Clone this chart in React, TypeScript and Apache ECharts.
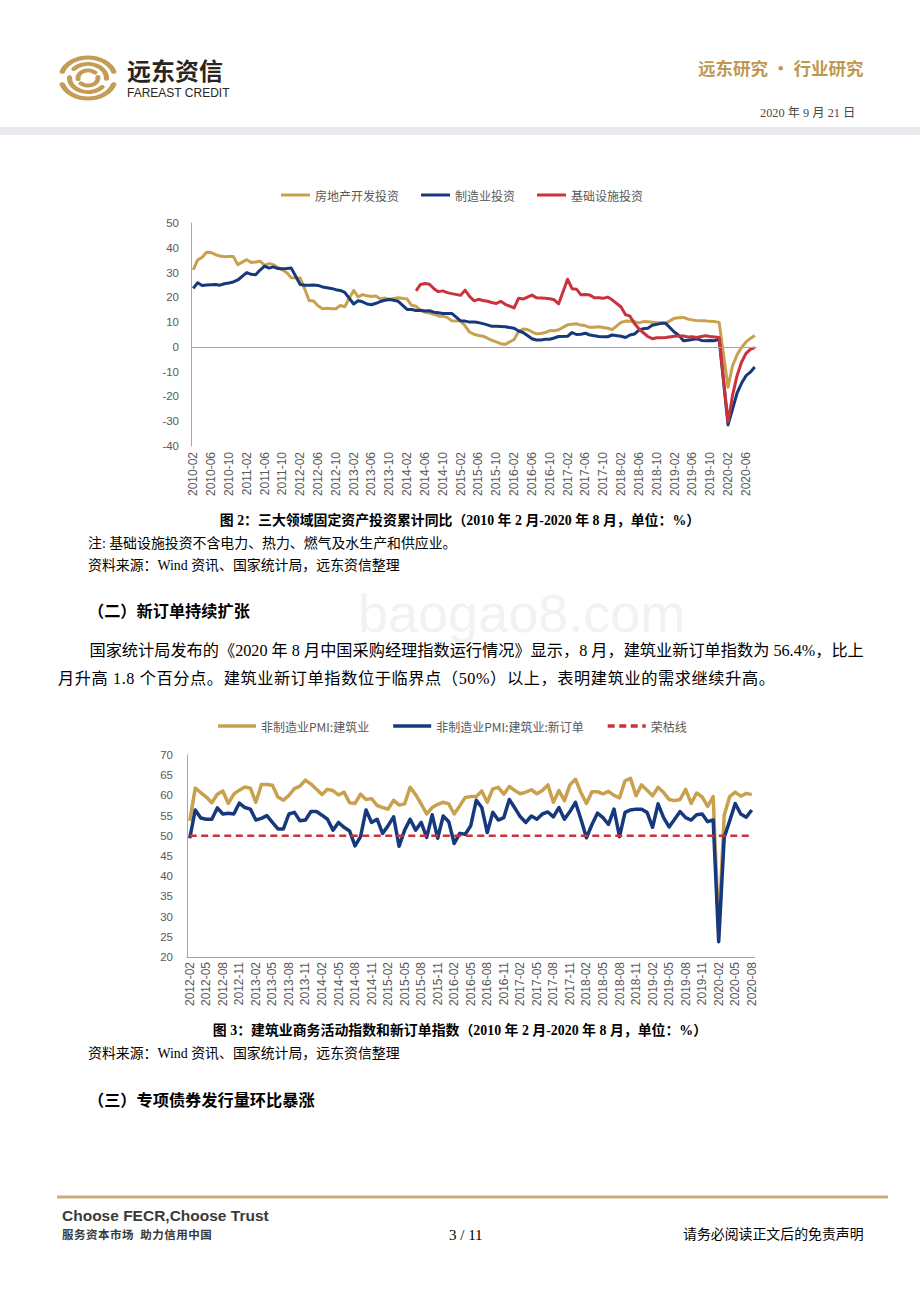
import React, { useEffect, useRef } from "react";
import * as echarts from "echarts";

function monthRange(start: string, end: string): string[] {
  const [sy, sm] = start.split("-").map(Number);
  const [ey, em] = end.split("-").map(Number);
  const out: string[] = [];
  let y = sy;
  let m = sm;
  while (y < ey || (y === ey && m <= em)) {
    out.push(`${y}-${String(m).padStart(2, "0")}`);
    m++;
    if (m > 12) {
      m = 1;
      y++;
    }
  }
  return out;
}

// ---------- Figure 2: fixed-asset investment, cumulative YoY (%) ----------
const fixedAssetMonths = monthRange("2010-02", "2020-08");
const fixedAssetSeriesNames = ["房地产开发投资", "制造业投资", "基础设施投资"];

const realEstateInvest: (number | null)[] = [
  31.1, 35.1, 36.2, 38.2, 38.1, 37.2, 36.7, 36.4, 36.5, 36.5, 33.2,
  null, 35.2, 34.1, 34.3, 34.6, 32.9, 33.6, 33.2, 32.0, 31.1, 29.9, 27.9,
  null, 27.8, 23.5, 18.7, 18.5, 16.6, 15.4, 15.6, 15.4, 15.4, 16.7, 16.2,
  null, 22.8, 20.2, 21.1, 20.6, 20.3, 20.5, 19.3, 19.7, 19.2, 19.5, 19.8,
  null, 19.3, 16.8, 16.4, 14.7, 14.1, 13.7, 13.2, 12.5, 12.4, 11.9, 10.5,
  null, 10.4, 8.5, 6.0, 5.1, 4.6, 4.3, 3.5, 2.6, 2.0, 1.3, 1.0,
  null, 3.0, 6.2, 7.2, 7.0, 6.1, 5.3, 5.4, 5.8, 6.6, 6.5, 6.9,
  null, 8.9, 9.1, 9.3, 8.8, 8.5, 7.9, 7.9, 8.1, 7.8, 7.5, 7.0,
  null, 9.9, 10.4, 10.3, 10.2, 9.7, 10.2, 10.1, 9.9, 9.7, 9.7, 9.5,
  null, 11.6, 11.8, 11.9, 11.2, 10.9, 10.6, 10.5, 10.5, 10.3, 10.2, 9.9,
  null, -16.3, -7.7, -3.3, -0.3, 1.9, 3.4, 4.6,
];

const manufacturingInvest: (number | null)[] = [
  23.6, 25.9, 24.8, 25.0, 25.1, 25.2, 24.9, 25.5, 25.8, 26.2, 27.0,
  null, 30.0, 29.3, 29.1, 31.0, 32.6, 31.8, 32.3, 31.6, 31.5, 31.6, 31.8,
  null, 25.2, 24.9, 24.9, 25.0, 24.8, 24.2, 23.9, 23.6, 23.1, 22.8, 22.0,
  null, 17.3, 18.6, 18.2, 17.3, 17.0, 17.6, 18.3, 18.8, 19.1, 18.8, 18.4,
  null, 15.1, 15.1, 14.7, 14.8, 14.5, 14.6, 14.0, 13.8, 13.5, 13.5, 13.5,
  null, 10.5, 10.4, 10.0, 10.0, 9.8, 9.4, 8.9, 8.3, 8.3, 8.2, 8.1,
  null, 7.5, 6.4, 5.8, 4.6, 3.3, 2.8, 2.8, 3.1, 3.1, 3.6, 4.2,
  null, 4.3, 5.8, 5.0, 5.1, 5.5, 4.8, 4.5, 4.2, 4.1, 4.1, 4.8,
  null, 4.3, 3.8, 4.8, 5.2, 6.8, 7.3, 7.5, 8.7, 9.1, 9.5, 9.5,
  null, 5.9, 4.6, 2.5, 2.7, 3.0, 3.3, 2.6, 2.5, 2.6, 2.5, 3.1,
  null, -31.5, -25.2, -18.8, -14.8, -11.7, -10.2, -8.1,
];

const infrastructureInvest: (number | null)[] = [
  null, null, null, null, null, null, null, null, null, null, null,
  null, null, null, null, null, null, null, null, null, null, null, null,
  null, null, null, null, null, null, null, null, null, null, null, null,
  null, null, null, null, null, null, null, null, null, null, null, null,
  null, null, null, 22.6, 25.2, 25.6, 25.3, 23.5, 22.3, 22.6, 21.9, 21.5,
  null, 20.8, 22.9, 20.4, 18.6, 19.2, 18.7, 18.4, 17.9, 17.5, 18.4, 17.2,
  null, 15.7, 19.6, 19.3, 20.1, 20.9, 19.8, 19.7, 19.6, 19.4, 19.0, 17.4,
  null, 27.3, 23.5, 23.3, 21.0, 21.1, 20.9, 19.8, 19.8, 19.6, 20.1, 19.0,
  null, 16.1, 13.0, 12.4, 9.4, 7.3, 5.7, 4.2, 3.3, 3.7, 3.7, 3.8,
  null, 4.3, 4.4, 4.4, 4.0, 4.1, 3.8, 4.2, 4.5, 4.2, 4.0, 3.8,
  null, -30.3, -19.7, -11.8, -6.3, -2.7, -1.0, -0.3,
];

// ---------- Figure 3: construction PMI ----------
const pmiMonths = monthRange("2012-02", "2020-08");
const pmiSeriesNames = ["非制造业PMI:建筑业", "非制造业PMI:建筑业:新订单", "荣枯线"];

const constructionPmi: number[] = [
  53.7, 61.8, 60.7, 59.6, 58.2, 60.3, 61.1, 58.0, 60.3, 61.3, 62.1,
  61.8, 58.3, 62.7, 62.7, 62.5, 59.6, 58.8, 60.0, 61.7, 62.3, 63.8, 62.8,
  61.5, 60.2, 61.5, 61.2, 60.1, 60.8, 58.2, 58.0, 60.3, 59.0, 59.2, 57.5,
  57.0, 56.6, 58.8, 57.6, 57.9, 62.0, 60.2, 57.9, 55.4, 57.0, 57.8, 58.3,
  57.9, 55.4, 57.4, 59.5, 59.7, 59.7, 61.1, 58.3, 61.6, 62.0, 60.3, 62.2,
  61.2, 60.4, 60.8, 61.4, 60.4, 61.2, 62.6, 58.3, 61.2, 58.7, 62.6, 64.0,
  60.7, 58.0, 60.9, 60.9, 60.4, 61.0, 60.0, 59.4, 63.6, 64.2, 59.9, 62.6,
  61.3, 59.9, 62.0, 60.7, 59.0, 58.7, 59.0, 61.5, 58.0, 60.6, 59.6, 57.3,
  59.7, 26.6, 55.1, 59.7, 60.8, 59.8, 60.5, 60.2,
];

const constructionNewOrders: number[] = [
  49.4, 56.4, 54.4, 54.1, 54.1, 56.9, 55.4, 55.6, 55.4, 58.1, 57.0,
  56.6, 53.9, 54.3, 55.0, 53.3, 51.7, 51.7, 55.4, 55.8, 53.7, 53.9, 56.0,
  56.0, 55.1, 54.1, 51.4, 53.3, 52.1, 51.2, 47.5, 49.8, 56.4, 53.3, 54.1,
  50.6, 52.5, 54.7, 47.4, 51.4, 54.1, 51.4, 53.3, 49.6, 55.2, 49.4, 54.9,
  53.5, 48.1, 50.6, 50.4, 52.5, 58.8, 57.0, 50.8, 55.8, 53.9, 54.5, 59.0,
  56.9, 54.7, 53.3, 54.9, 54.1, 55.4, 55.9, 54.7, 57.0, 54.1, 56.0, 58.3,
  54.1, 49.5, 52.8, 55.6, 54.5, 52.8, 56.6, 49.8, 55.8, 56.4, 56.6, 56.6,
  55.8, 52.1, 57.9, 54.5, 52.2, 54.1, 56.0, 54.5, 53.9, 55.2, 55.4, 53.5,
  53.9, 23.8, 49.6, 53.7, 58.0, 55.4, 54.6, 56.4,
];

const BOOM_BUST_LINE = 50;
const boomBustData = pmiMonths.map(() => BOOM_BUST_LINE);

// ---------- styles ----------
const GOLD = "#C9A04E";
const NAVY = "#16387C";
const RED = "#C9333B";
const AXIS_GRAY = "#A6A6A6";
const LABEL_GRAY = "#595959";
const LATIN_SANS = "'Liberation Sans', Arial, 'Noto Sans CJK SC', sans-serif";
const CJK_SANS = "'Noto Sans CJK SC', 'Liberation Sans', sans-serif";
const SERIF = "'Liberation Serif', 'Times New Roman', 'Noto Sans CJK SC', serif";
const LOGO_GOLD = "#C39C55";

const DASH_ICON = "path://M0,0h7v3.5h-7zM11.5,0h7v3.5h-7zM23,0h7v3.5h-7zM34.5,0h3.5v3.5h-3.5z";

function buildOption(): any {
  const axisLabelBase = { color: LABEL_GRAY, fontSize: 11.5, fontFamily: LATIN_SANS };
  const xLabelBase = { color: LABEL_GRAY, fontSize: 12, fontFamily: LATIN_SANS };
  const legendText = { color: LABEL_GRAY, fontSize: 12, fontFamily: CJK_SANS };
  const PI = Math.PI;
  const arc = (r: number, a0: number, a1: number, w: number) => ({
    type: "arc",
    shape: { cx: 0, cy: 0, r, startAngle: a0 * PI, endAngle: a1 * PI, clockwise: true },
    style: { stroke: LOGO_GOLD, lineWidth: w, fill: null, lineCap: "round" },
  });
  return {
    animation: false,
    textStyle: { fontFamily: LATIN_SANS },
    graphic: [
      { type: "rect", shape: { x: 0, y: 127, width: 920, height: 8 }, style: { fill: "#E9EBEE" }, silent: true },
      { type: "rect", shape: { x: 57, y: 1195.5, width: 831, height: 3 }, style: { fill: "#C9AD7B" }, silent: true },
      {
        type: "group",
        x: 88,
        y: 78,
        scaleY: 0.76,
        silent: true,
        children: [
          arc(27, 1.1, 1.9, 5.5),
          arc(27, 0.1, 0.9, 5.5),
          arc(18.5, 1.22, 2.02, 5),
          arc(18.5, 0.22, 1.02, 5),
          arc(10, 0.95, 1.75, 5),
          arc(10, -0.05, 0.75, 5),
        ],
      },
    ],
    legend: [
      {
        left: 281,
        top: 189,
        padding: 0,
        itemWidth: 29,
        itemHeight: 3,
        itemGap: 22,
        data: fixedAssetSeriesNames.map((name) => ({ name, icon: "rect" })),
        textStyle: legendText,
      },
      {
        left: 218,
        top: 720,
        padding: 0,
        itemWidth: 38,
        itemHeight: 3.5,
        itemGap: 24,
        data: [
          { name: pmiSeriesNames[0], icon: "rect" },
          { name: pmiSeriesNames[1], icon: "rect" },
          { name: pmiSeriesNames[2], icon: DASH_ICON },
        ],
        textStyle: legendText,
      },
    ],
    grid: [
      { left: 191, top: 223, width: 566, height: 223 },
      { left: 187, top: 755, width: 567.5, height: 202 },
    ],
    xAxis: [
      {
        type: "category",
        gridIndex: 0,
        data: fixedAssetMonths,
        boundaryGap: true,
        axisLine: { show: false, onZero: false },
        axisTick: { show: false },
        splitLine: { show: false },
        axisLabel: { ...xLabelBase, interval: 3, rotate: 90, margin: 6 },
      },
      {
        type: "category",
        gridIndex: 1,
        data: pmiMonths,
        boundaryGap: true,
        axisLine: { show: true, onZero: false, lineStyle: { color: AXIS_GRAY, width: 1 } },
        axisTick: { show: false },
        splitLine: { show: false },
        axisLabel: { ...xLabelBase, interval: 2, rotate: 90, margin: 5 },
      },
    ],
    yAxis: [
      {
        type: "value",
        gridIndex: 0,
        min: -40,
        max: 50,
        interval: 10,
        axisLine: { show: true, lineStyle: { color: AXIS_GRAY, width: 1 } },
        axisTick: { show: false },
        splitLine: { show: false },
        axisLabel: { ...axisLabelBase, margin: 12 },
      },
      {
        type: "value",
        gridIndex: 1,
        min: 20,
        max: 70,
        interval: 5,
        axisLine: { show: true, lineStyle: { color: AXIS_GRAY, width: 1 } },
        axisTick: { show: false },
        splitLine: { show: false },
        axisLabel: { ...axisLabelBase, margin: 14 },
      },
    ],
    series: [
      {
        name: fixedAssetSeriesNames[0],
        type: "line",
        xAxisIndex: 0,
        yAxisIndex: 0,
        data: realEstateInvest,
        connectNulls: true,
        symbol: "none",
        lineStyle: { color: GOLD, width: 3, join: "round" },
        itemStyle: { color: GOLD },
        markLine: {
          silent: true,
          symbol: ["none", "none"],
          label: { show: false },
          lineStyle: { color: AXIS_GRAY, width: 1, type: "solid" },
          data: [{ yAxis: 0 }],
        },
      },
      {
        name: fixedAssetSeriesNames[1],
        type: "line",
        xAxisIndex: 0,
        yAxisIndex: 0,
        data: manufacturingInvest,
        connectNulls: true,
        symbol: "none",
        lineStyle: { color: NAVY, width: 3, join: "round" },
        itemStyle: { color: NAVY },
      },
      {
        name: fixedAssetSeriesNames[2],
        type: "line",
        xAxisIndex: 0,
        yAxisIndex: 0,
        data: infrastructureInvest,
        connectNulls: true,
        symbol: "none",
        lineStyle: { color: RED, width: 3, join: "round" },
        itemStyle: { color: RED },
      },
      {
        name: pmiSeriesNames[0],
        type: "line",
        xAxisIndex: 1,
        yAxisIndex: 1,
        data: constructionPmi,
        symbol: "none",
        lineStyle: { color: GOLD, width: 3.5, join: "round" },
        itemStyle: { color: GOLD },
      },
      {
        name: pmiSeriesNames[1],
        type: "line",
        xAxisIndex: 1,
        yAxisIndex: 1,
        data: constructionNewOrders,
        symbol: "none",
        lineStyle: { color: NAVY, width: 3.5, join: "round" },
        itemStyle: { color: NAVY },
      },
      {
        name: pmiSeriesNames[2],
        type: "line",
        xAxisIndex: 1,
        yAxisIndex: 1,
        data: boomBustData,
        symbol: "none",
        lineStyle: { color: RED, width: 2.5, type: [7, 4.5] },
        itemStyle: { color: RED },
      },
    ],
  };
}

type TxtProps = {
  x?: number;
  cy: number;
  size: number;
  lh?: number;
  bold?: boolean;
  color?: string;
  family?: string;
  align?: "left" | "center" | "right" | "justify";
  width?: number;
  extra?: React.CSSProperties;
  children: React.ReactNode;
};

function Txt({ x = 0, cy, size, lh, bold, color = "#000", family = SERIF, align = "left", width, extra, children }: TxtProps) {
  const lineH = lh ?? size;
  const style: React.CSSProperties = {
    position: "absolute",
    left: x,
    top: cy - lineH / 2,
    fontSize: size,
    lineHeight: `${lineH}px`,
    fontWeight: bold ? 700 : 400,
    color,
    fontFamily: family,
    whiteSpace: "nowrap",
    textAlign: align as any,
    pointerEvents: "none",
    ...(width !== undefined ? { width } : {}),
    ...(align === "justify" ? { textAlignLast: "justify" as any } : {}),
    ...extra,
  };
  return <div style={style}>{children}</div>;
}

export default function App() {
  const ref = useRef<HTMLDivElement>(null);
  useEffect(() => {
    if (!ref.current) return;
    const chart = echarts.init(ref.current, null, { renderer: "svg" });
    chart.setOption(buildOption());
    return () => chart.dispose();
  }, []);

  return (
    <div style={{ position: "absolute", left: 0, top: 0, width: 920, height: 1302, background: "#fff", overflow: "hidden" }}>
      <div ref={ref} style={{ position: "absolute", left: 0, top: 0, width: 920, height: 1302 }} />

      {/* header */}
      <Txt x={127} cy={70} size={24} lh={22} bold family={CJK_SANS} color="#2B2522">远东资信</Txt>
      <Txt x={127} cy={93} size={12} lh={12} family={LATIN_SANS} color="#2B2522">FAREAST CREDIT</Txt>
      <Txt x={698} cy={68} size={17.5} bold family={CJK_SANS} color="#BE9850">远东研究 • 行业研究</Txt>
      <Txt x={760} cy={113} size={12.3} family={SERIF} color="#4A4A4A">2020 年 9 月 21 日</Txt>

      {/* watermark */}
      <Txt x={358} cy={613} size={54} lh={30} family={LATIN_SANS} color="rgba(110,110,110,0.09)">baogao8.com</Txt>

      {/* figure 2 texts */}
      <Txt x={0} width={920} align="center" cy={521} size={13.9} bold>
        图 2：三大领域固定资产投资累计同比（2010 年 2 月-2020 年 8 月，单位：%）
      </Txt>
      <Txt x={88} cy={544} size={13.9}>注: 基础设施投资不含电力、热力、燃气及水生产和供应业。</Txt>
      <Txt x={88} cy={566} size={13.9}>资料来源：Wind 资讯、国家统计局，远东资信整理</Txt>

      <Txt x={88} cy={612} size={16.2} bold>（二）新订单持续扩张</Txt>
      <Txt x={89.5} width={772.5} align="justify" cy={651} size={16.2}>
        国家统计局发布的《2020 年 8 月中国采购经理指数运行情况》显示，8 月，建筑业新订单指数为 56.4%，比上
      </Txt>
      <Txt x={58} cy={679} size={16.2} extra={{ letterSpacing: "0.6px" }}>
        月升高 1.8 个百分点。建筑业新订单指数位于临界点（50%）以上，表明建筑业的需求继续升高。
      </Txt>

      {/* figure 3 texts */}
      <Txt x={0} width={920} align="center" cy={1031} size={13.9} bold>
        图 3：建筑业商务活动指数和新订单指数（2010 年 2 月-2020 年 8 月，单位：%）
      </Txt>
      <Txt x={88} cy={1054} size={13.9}>资料来源：Wind 资讯、国家统计局，远东资信整理</Txt>
      <Txt x={88} cy={1101} size={16.2} bold>（三）专项债券发行量环比暴涨</Txt>

      {/* footer */}
      <Txt x={62} cy={1216} size={15.5} bold family={LATIN_SANS} color="#3A3A3A">Choose FECR,Choose Trust</Txt>
      <Txt x={62} cy={1234} size={11.5} lh={11} bold family={CJK_SANS} color="#3A3A3A" extra={{ letterSpacing: "0.5px" }}>服务资本市场&nbsp;&nbsp;助力信用中国</Txt>
      <Txt x={449} cy={1235} size={15} family={SERIF}>3 / 11</Txt>
      <Txt x={683} cy={1235} size={13.9} family={SERIF}>请务必阅读正文后的免责声明</Txt>
    </div>
  );
}
